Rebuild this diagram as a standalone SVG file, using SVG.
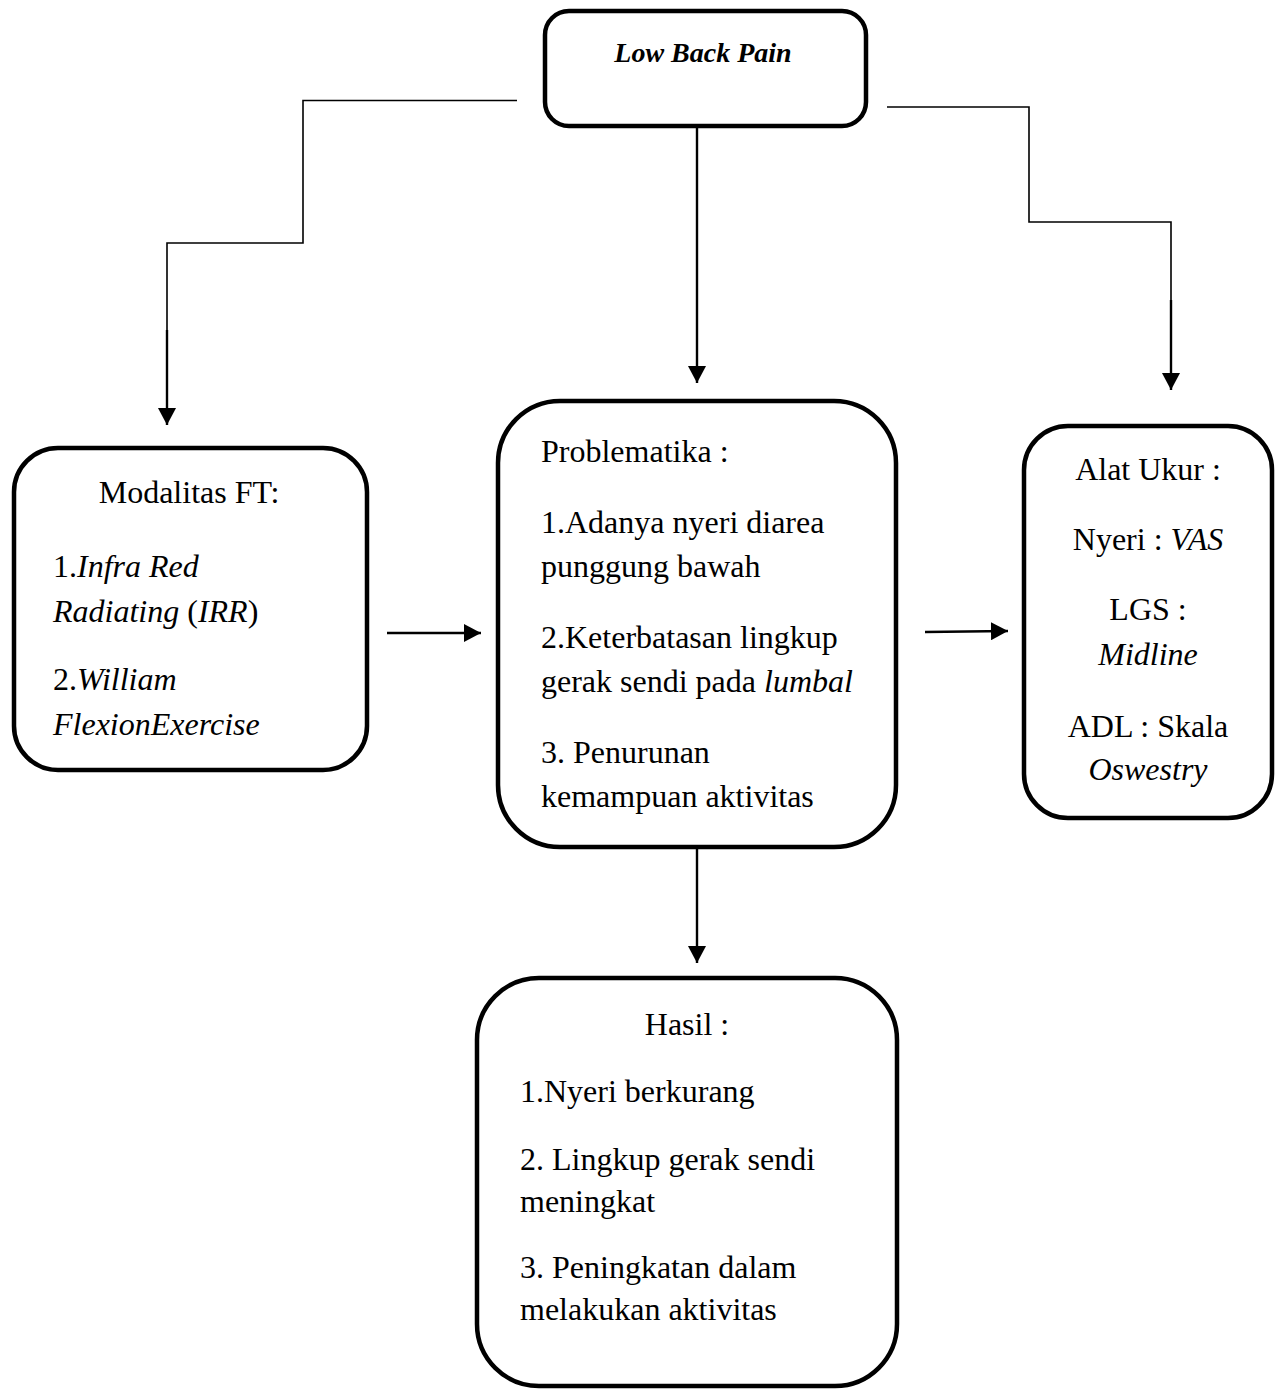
<svg xmlns="http://www.w3.org/2000/svg" width="1283" height="1390" viewBox="0 0 1283 1390">
<style>
.box{fill:#fff;stroke:#000;stroke-width:4.5}
.t{font-family:"Liberation Serif","Times New Roman",serif;font-size:32px;fill:#000}
.c{text-anchor:middle}
.i{font-style:italic}
.ttl{font-size:28px;font-weight:bold}
.ln{fill:none;stroke:#000;stroke-width:2.4}
.thin{fill:none;stroke:#000;stroke-width:1.6}
</style>
<defs>
<marker id="ah" markerUnits="userSpaceOnUse" markerWidth="18" markerHeight="18" viewBox="0 0 18 18" refX="17" refY="9" orient="auto">
<path d="M0,0 L17,9 L0,18 Z" fill="#000"/>
</marker>
</defs>
<rect width="1283" height="1390" fill="#fff"/>
<g id="connectors">
<polyline class="thin" points="517,100.5 303,100.5 303,243 167,243 167,330"/>
<line class="ln" x1="167" y1="330" x2="167" y2="425" marker-end="url(#ah)"/>
<polyline class="thin" points="887,107 1029,107 1029,222 1171,222 1171,300"/>
<line class="ln" x1="1171" y1="300" x2="1171" y2="390" marker-end="url(#ah)"/>
<line class="ln" x1="697" y1="127" x2="697" y2="383" marker-end="url(#ah)"/>
<line class="ln" x1="387" y1="633" x2="481" y2="633" marker-end="url(#ah)"/>
<line class="ln" x1="925" y1="632" x2="1008" y2="631" marker-end="url(#ah)"/>
<line class="ln" x1="697" y1="848" x2="697" y2="963" marker-end="url(#ah)"/>
</g>
<g id="node-lbp">
<rect class="box" x="545" y="11" width="321" height="115" rx="24"/>
<text class="t c i ttl" x="703" y="62">Low Back Pain</text>
</g>
<g id="node-modalitas">
<rect class="box" x="14" y="448" width="353" height="322" rx="44"/>
<text class="t c" x="189" y="503">Modalitas FT:</text>
<text class="t" x="53" y="577">1.<tspan class="i">Infra Red</tspan></text>
<text class="t" x="53" y="622"><tspan class="i">Radiating</tspan> (<tspan class="i">IRR</tspan>)</text>
<text class="t" x="53" y="690">2.<tspan class="i">William</tspan></text>
<text class="t i" x="53" y="735">FlexionExercise</text>
</g>
<g id="node-problematika">
<rect class="box" x="498" y="401" width="398" height="446" rx="62"/>
<text class="t" x="541" y="462">Problematika :</text>
<text class="t" x="541" y="533">1.Adanya nyeri diarea</text>
<text class="t" x="541" y="577">punggung bawah</text>
<text class="t" x="541" y="648">2.Keterbatasan lingkup</text>
<text class="t" x="541" y="692">gerak sendi pada <tspan class="i">lumbal</tspan></text>
<text class="t" x="541" y="763">3. Penurunan</text>
<text class="t" x="541" y="807">kemampuan aktivitas</text>
</g>
<g id="node-alatukur">
<rect class="box" x="1024" y="426" width="248" height="392" rx="44"/>
<text class="t c" x="1148" y="480">Alat Ukur :</text>
<text class="t c" x="1148" y="550">Nyeri : <tspan class="i">VAS</tspan></text>
<text class="t c" x="1148" y="620">LGS :</text>
<text class="t c i" x="1148" y="665">Midline</text>
<text class="t c" x="1148" y="737">ADL : Skala</text>
<text class="t c i" x="1148" y="780">Oswestry</text>
</g>
<g id="node-hasil">
<rect class="box" x="477" y="978" width="420" height="408" rx="62"/>
<text class="t c" x="687" y="1035">Hasil :</text>
<text class="t" x="520" y="1102">1.Nyeri berkurang</text>
<text class="t" x="520" y="1170">2. Lingkup gerak sendi</text>
<text class="t" x="520" y="1212">meningkat</text>
<text class="t" x="520" y="1278">3. Peningkatan dalam</text>
<text class="t" x="520" y="1320">melakukan aktivitas</text>
</g>
</svg>
